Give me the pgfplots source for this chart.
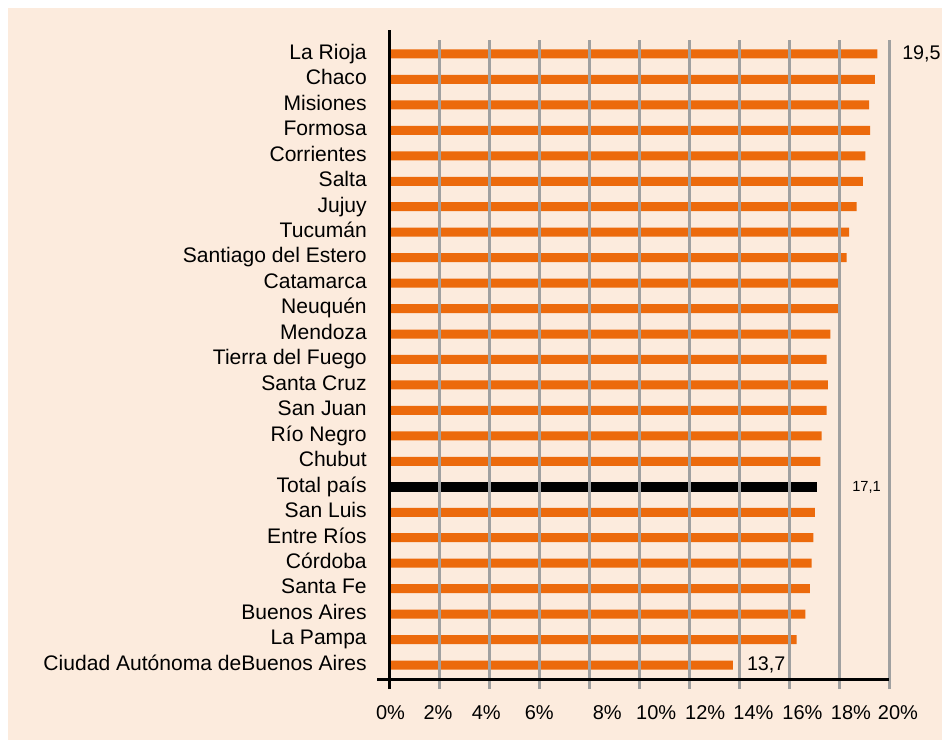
\documentclass[border=0pt]{standalone}
\usepackage{pgfplots}
\pgfplotsset{compat=1.18}
\usepackage{fontspec}
\setmainfont{Liberation Sans}
\definecolor{bg}{HTML}{FCEBDD}
\definecolor{barc}{HTML}{EC6A0C}
\definecolor{grd}{HTML}{A0A0A0}
\begin{document}
\begin{tikzpicture}
\path[use as bounding box] (0,0) rectangle (706.5pt,555pt);
\fill[bg] (6pt,0) rectangle (706.5pt,549pt);
\begin{axis}[
 at={(291.75pt,45.75pt)}, anchor=south west,
 scale only axis, width=375pt, height=479.25pt,
 xmin=0, xmax=20, ymin=-0.55, ymax=24.55,
 clip=false, axis on top,
 axis x line*=bottom, axis y line*=left,
 axis line style={-, black, line width=2.25pt},
 x axis line style={shorten <=-9pt},
 y axis line style={draw=none},
 xtick={2,4,...,20}, xticklabels={},
 xmajorgrids, major grid style={grd, line width=2.25pt},
 tick align=outside, xtick style={grd, line width=2.25pt}, major tick length=7.5pt,
 extra x ticks={0.06,1.96,3.89,6.01,8.73,10.69,12.65,14.58,16.54,18.48,20},
 extra x tick labels={0\%,2\%,4\%,6\%,8\%,10\%,12\%,14\%,16\%,18\%,\hspace*{13.5pt}20\%},
 extra x tick style={grid=none, major tick length=0pt},
 xticklabel style={font=\fontsize{15}{18}\selectfont, anchor=base, inner sep=0pt, yshift=-30pt},
 ytick={0,...,24},
 yticklabels={Ciudad Autónoma deBuenos Aires, La Pampa, Buenos Aires, Santa Fe, Córdoba, Entre Ríos, San Luis, Total país, Chubut, Río Negro, San Juan, Santa Cruz, Tierra del Fuego, Mendoza, Neuquén, Catamarca, Santiago del Estero, Tucumán, Jujuy, Salta, Corrientes, Formosa, Misiones, Chaco, La Rioja},
 ytick style={draw=none},
 yticklabel style={font=\fontsize{15.8}{18}\selectfont, anchor=base east, inner sep=0pt, xshift=-9pt, yshift=-4pt},
]
\addplot[xbar, bar shift=0pt, bar width=6.75pt, fill=barc, draw=none] coordinates {
(13.75,0) (16.3,1) (16.65,2) (16.83,3) (16.9,4) (16.97,5) (17.03,6)
(17.25,8) (17.3,9) (17.5,10) (17.55,11) (17.5,12) (17.65,13) (18.0,14)
(18.0,15) (18.3,16) (18.4,17) (18.7,18) (18.95,19) (19.05,20) (19.24,21)
(19.2,22) (19.43,23) (19.53,24)};
\addplot[xbar, bar shift=0pt, bar width=7.5pt, fill=black, draw=none] coordinates {(17.1,7)};
\node[anchor=base west, inner sep=0pt, yshift=-4pt, font=\fontsize{14.8}{18}\selectfont] at (axis cs:20.52,24) {19,5};
\node[anchor=base west, inner sep=0pt, yshift=-4pt, font=\fontsize{14.8}{18}\selectfont] at (axis cs:14.31,0) {13,7};
\node[anchor=base west, inner sep=0pt, yshift=-3.3pt, font=\fontsize{11}{13}\selectfont] at (axis cs:18.52,7) {17,1};
\draw[black, line width=2.25pt] (axis cs:0,-0.95) -- (axis cs:0,24.95);
\end{axis}
\end{tikzpicture}
\end{document}
